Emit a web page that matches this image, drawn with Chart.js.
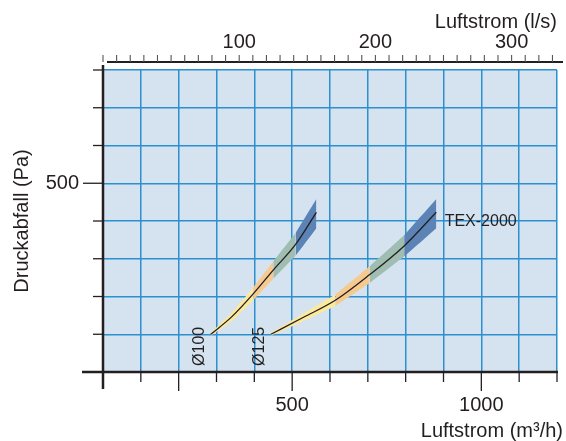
<!DOCTYPE html>
<html>
<head>
<meta charset="utf-8">
<script src="https://cdn.jsdelivr.net/npm/chart.js@4/dist/chart.umd.min.js"></script>
<style>
  html, body { margin: 0; padding: 0; background: #fff; }
  #wrap { width: 566px; height: 441px; }
</style>
</head>
<body>
<div id="wrap"><canvas id="chart" width="566" height="441"></canvas></div>
<script>
// Ø100 curve: airflow (m3/h), pressure drop (Pa), band edges
const flow100 = [285, 340, 397, 450, 509, 564];
const dp100 = [100, 146, 207, 270, 338, 423];
const dp100Upper = [104, 157, 224, 293, 368, 458];
const dp100Lower = [96, 135, 190, 247, 308, 381];

// Ø125 curve
const flow125 = [444, 530, 614, 705, 796, 881];
const dp125 = [100, 145, 190, 258, 334, 423];
const dp125Upper = [104, 155, 205, 280, 362, 458];
const dp125Lower = [96, 135, 175, 236, 306, 381];

// colour bands along each curve (index ranges into the arrays above)
const bandStops = [0, 2, 3, 4, 5];
const bandColors = ['#fde99c', '#f6c98e', '#9fbdb0', '#5b83b5'];

// tick labels
const xTickLabels = [500, 1000];
const yTickLabels = [500];
const lsTickLabels = [100, 200, 300];
const xLongTicks = [200, 500, 1000];

const FONT = '"Liberation Sans", Arial, sans-serif';
const INK = '#231f20';

function pts(xs, ys, from, to) {
    const out = [];
    for (let i = from; i <= to; i++) out.push({ x: xs[i], y: ys[i] });
    return out;
}

const datasets = [];
function addCurve(xs, mid, lo, hi) {
    for (let s = 0; s < bandColors.length; s++) {
        const a = bandStops[s], b = bandStops[s + 1];
        datasets.push({ data: pts(xs, lo, a, b), borderWidth: 0, pointRadius: 0, fill: false, tension: 0.3, order: 2 });
        datasets.push({ data: pts(xs, hi, a, b), borderWidth: 0, pointRadius: 0, fill: '-1',
            backgroundColor: bandColors[s], tension: 0.3, order: 2 });
    }
}
addCurve(flow100, dp100, dp100Lower, dp100Upper);
addCurve(flow125, dp125, dp125Lower, dp125Upper);
// black centre lines drawn on top of the bands
datasets.push({ data: pts(flow100, dp100, 0, flow100.length - 1), borderColor: INK, borderWidth: 1.3,
    pointRadius: 0, fill: false, cubicInterpolationMode: 'monotone', order: 0 });
datasets.push({ data: pts(flow125, dp125, 0, flow125.length - 1), borderColor: INK, borderWidth: 1.3,
    pointRadius: 0, fill: false, cubicInterpolationMode: 'monotone', order: 0 });

function line(ctx, x1, y1, x2, y2) {
    ctx.beginPath();
    ctx.moveTo(x1, y1);
    ctx.lineTo(x2, y2);
    ctx.stroke();
}

const axesPlugin = {
    id: 'axes',
    beforeDraw(chart) {
        const { ctx, chartArea: a } = chart;
        ctx.save();
        ctx.fillStyle = '#d5e3f0';
        ctx.fillRect(a.left, a.top, a.right - a.left, a.bottom - a.top);
        ctx.restore();
    },
    afterDraw(chart) {
        const { ctx, chartArea: a, scales: { x, y } } = chart;
        ctx.save();
        ctx.strokeStyle = INK;
        ctx.fillStyle = INK;

        // tick marks
        ctx.lineWidth = 1.3;
        x.ticks.forEach(t => {
            const px = x.getPixelForValue(t.value);
            line(ctx, px, a.bottom, px, a.bottom + (xLongTicks.includes(t.value) ? 19 : 10));
        });
        y.ticks.forEach(t => {
            const py = y.getPixelForValue(t.value);
            line(ctx, a.left - (t.value === 500 ? 20 : 10), py, a.left, py);
        });

        // main axes
        ctx.lineWidth = 2.5;
        line(ctx, a.left - 21, a.bottom, a.right + 1, a.bottom);
        line(ctx, a.left, a.top - 5, a.left, a.bottom + 17);

        // top axis in l/s
        const ty = a.top - 8;
        ctx.lineWidth = 2.2;
        line(ctx, a.left + 4, ty, a.right + 6, ty);
        ctx.lineWidth = 1.1;
        ctx.strokeStyle = '#555';
        for (let ls = 0; ls <= 330; ls += 10) {
            const px = x.getPixelForValue(ls * 3.6);
            line(ctx, px, ty, px, ty - 7);
        }

        ctx.font = '20px ' + FONT;
        ctx.textBaseline = 'middle';
        ctx.textAlign = 'center';
        lsTickLabels.forEach(v => ctx.fillText(String(v), x.getPixelForValue(v * 3.6), 42));
        xTickLabels.forEach(v => ctx.fillText(String(v), x.getPixelForValue(v), 405));
        ctx.textAlign = 'right';
        yTickLabels.forEach(v => ctx.fillText(String(v), a.left - 24, y.getPixelForValue(v)));

        // axis titles
        ctx.fillText('Luftstrom (l/s)', 557, 22);
        ctx.fillText('Luftstrom (m³/h)', 563, 431);
        ctx.save();
        ctx.translate(22, (a.top + a.bottom) / 2);
        ctx.rotate(-Math.PI / 2);
        ctx.textAlign = 'center';
        ctx.fillText('Druckabfall (Pa)', 0, 0);
        ctx.restore();

        // curve labels
        ctx.font = '16px ' + FONT;
        ctx.textAlign = 'left';
        ctx.fillText('TEX-2000', x.getPixelForValue(903), y.getPixelForValue(398));
        [['Ø100', 254], ['Ø125', 413]].forEach(([txt, fx]) => {
            ctx.save();
            ctx.translate(x.getPixelForValue(fx), y.getPixelForValue(68));
            ctx.rotate(-Math.PI / 2);
            ctx.textAlign = 'center';
            ctx.fillText(txt, 0, 0);
            ctx.restore();
        });
        ctx.restore();
    }
};

new Chart(document.getElementById('chart'), {
    type: 'line',
    data: { datasets: datasets },
    options: {
        responsive: false,
        animation: false,
        events: [],
        layout: { padding: { top: 70, right: 9, left: 0, bottom: 0 } },
        plugins: { legend: { display: false }, tooltip: { enabled: false } },
        scales: {
            x: {
                type: 'linear', min: 0, max: 1200,
                ticks: { stepSize: 100, display: false },
                grid: { color: '#2b8fd0', lineWidth: 1.5, drawTicks: false },
                border: { display: false },
                afterFit: s => { s.height = 69; }
            },
            y: {
                type: 'linear', min: 0, max: 800,
                ticks: { stepSize: 100, display: false },
                grid: { color: '#2b8fd0', lineWidth: 1.5, drawTicks: false },
                border: { display: false },
                afterFit: s => { s.width = 103; }
            }
        }
    },
    plugins: [axesPlugin]
});
</script>
</body>
</html>
